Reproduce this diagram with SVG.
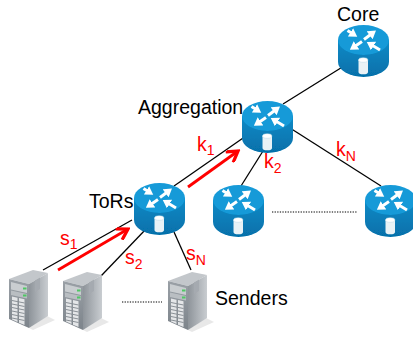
<svg xmlns="http://www.w3.org/2000/svg" width="413" height="337" viewBox="0 0 413 337">
<style>
.lnk{stroke:#000;stroke-width:1.3;fill:none}
.dot{stroke:#000;stroke-width:1.2;stroke-dasharray:1.3 1.3;fill:none}
.red{stroke:#f00;stroke-width:2.8;fill:none;marker-end:url(#ra)}
.t{font-family:"Liberation Sans",Arial,sans-serif;font-size:19.5px;fill:#000}
.r{font-family:"Liberation Sans",Arial,sans-serif;font-size:19.5px;fill:#f00}
.r tspan{font-size:14px}
.wa{stroke:#fff;stroke-width:3;fill:none;marker-end:url(#wh)}
.ic{filter:url(#soft)}
</style>
<defs>
<filter id="soft" x="-5%" y="-5%" width="110%" height="110%"><feGaussianBlur stdDeviation="0.35"/></filter>
<marker id="ra" markerUnits="userSpaceOnUse" markerWidth="14" markerHeight="14" refX="10" refY="6" orient="auto" viewBox="0 0 12 12"><path d="M1 .5L10 6L1 11.500" fill="none" stroke="#f00" stroke-width="2.8"/></marker>
<marker id="wh" markerUnits="userSpaceOnUse" markerWidth="9" markerHeight="10" refX="3" refY="5" orient="auto" viewBox="0 0 9 10"><path d="M0 0L8 5L0 10Z" fill="#fff"/></marker>
<linearGradient id="body" x1="0" y1="0" x2="0" y2="1"><stop offset="0" stop-color="#0b8ac6"/><stop offset="1" stop-color="#0670aa"/></linearGradient>
<linearGradient id="front" x1="0" y1="0" x2="0" y2="1"><stop offset="0" stop-color="#9aa0a6"/><stop offset="1" stop-color="#7d848b"/></linearGradient>
<linearGradient id="side" x1="0" y1="0" x2="1" y2="0"><stop offset="0" stop-color="#8e949a"/><stop offset="1" stop-color="#c9cdd1"/></linearGradient>
<g id="router">
<path d="M0 15V37A25.500 15 0 0 0 51 37V15Z" fill="url(#body)"/>
<ellipse cx="25.500" cy="15" rx="25.500" ry="15" fill="#149ad8"/>
<path class="wa" d="M9.500 5.500L15 9"/>
<path class="wa" d="M26 14.500L34 8.500"/>
<path class="wa" d="M24 16.500L16 22"/>
<path class="wa" d="M42 25L33 19.500"/>
<path d="M20.500 35V47A4.700 2.300 0 0 0 30 47V35Z" fill="#e9f2f6"/>
<ellipse cx="25.200" cy="35" rx="4.700" ry="2.300" fill="#fff" stroke="#b8d6e4" stroke-width=".5"/>
</g>
<g id="server">
<path d="M38 46L46 50L24 60L20 58Z" fill="#e8e8e8"/>
<path d="M0 9L24 0L39 3L20 14Z" fill="#c3c7cb"/>
<path d="M20 14L39 3V46L20 58Z" fill="url(#side)"/>
<path d="M0 9L20 14V58L0 49Z" fill="url(#front)"/>
<path d="M2 12L18 16V23L2 19.500Z" fill="#c9cdd0"/>
<path d="M2 20.500L18 24V28.500L2 25Z" fill="#b9bec2"/>
<rect x="14" y="17.500" width="3.500" height="2" fill="#4fc864"/>
<rect x="14" y="24.500" width="3.500" height="2" fill="#4fc864"/>
<path d="M3 26.500L8.500 27.700V52L3 49.500Z" fill="#e4e6e8"/>
<path d="M10 28L15.500 29.200V55L10 52.700Z" fill="#e4e6e8"/>
<path d="M3 30.500L15.500 33M3 34L15.500 36.500M3 37.500L15.500 40M3 41L15.500 43.500M3 44.500L15.500 47M3 48L15.500 50.500" stroke="#8a9096" stroke-width="1" fill="none"/>
<path d="M26 10.500L31 7.500V19L26 22Z" fill="#a5aab0"/>
</g>
</defs>
<g id="connectors">
<path class="lnk" d="M344 66L283 104"/>
<path class="lnk" d="M246 136L174 186"/>
<path class="lnk" d="M263 151L241 186"/>
<path class="lnk" d="M290 128L381 186"/>
<path class="lnk" d="M132 220L43 270"/>
<path class="lnk" d="M146 229L101 276"/>
<path class="lnk" d="M174 232L191 270"/>
<path class="red" d="M58 270L128 229"/>
<path class="red" d="M188 187L238 151"/>
<path class="dot" d="M122 302H162"/>
<path class="dot" d="M272 212H357"/>
</g>
<g id="core"><use class="ic" href="#router" x="338" y="25"/><text class="t" x="337" y="21">Core</text></g>
<g id="aggregation"><use class="ic" href="#router" x="242" y="101"/><text class="t" x="138" y="114">Aggregation</text></g>
<g id="tor"><use class="ic" href="#router" x="134" y="183"/><text class="t" x="89" y="208">ToRs</text></g>
<g id="agg-left"><use class="ic" href="#router" x="213" y="185"/></g>
<g id="agg-right"><use class="ic" href="#router" x="365" y="185"/></g>
<g id="sender-1"><use class="ic" href="#server" x="9" y="270"/></g>
<g id="sender-2"><use class="ic" href="#server" x="63" y="272"/></g>
<g id="sender-n"><use class="ic" href="#server" x="168" y="272"/></g>
<text class="t" x="215" y="305" id="senders">Senders</text>
<g id="labels">
<text class="r" x="60" y="245">s<tspan dy="4">1</tspan></text>
<text class="r" x="125" y="264">s<tspan dy="5">2</tspan></text>
<text class="r" x="186" y="260">s<tspan dy="5">N</tspan></text>
<text class="r" x="197" y="151">k<tspan dy="4">1</tspan></text>
<text class="r" x="264" y="168">k<tspan dy="5">2</tspan></text>
<text class="r" x="336" y="156">k<tspan dy="5">N</tspan></text>
</g>
</svg>
